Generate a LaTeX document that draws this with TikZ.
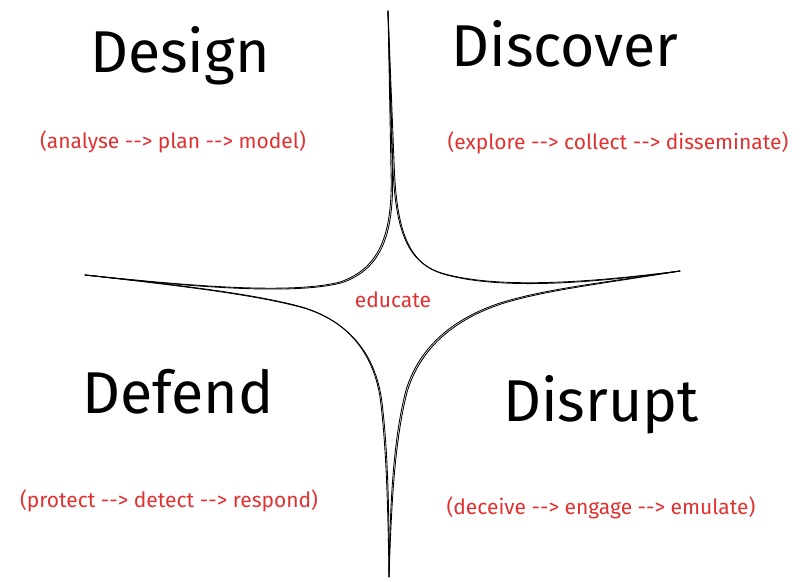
\documentclass[tikz,border=0pt]{standalone}
\usepackage{fontspec}
\setmainfont{Fira Sans}
\definecolor{notered}{HTML}{E03131}
\begin{document}
\begin{tikzpicture}[x=1pt,y=-1pt,
  stroke/.style={line width=0.85pt, black, line cap=round, line join=round},
  title/.style={anchor=base, inner sep=0pt, text=black, font=\fontsize{59}{62}\selectfont},
  note/.style={anchor=center, inner sep=0pt, text=notered, font=\fontsize{21}{24}\selectfont}]
\useasboundingbox (0,0) rectangle (803,581);

% tips of the four-pointed star
\coordinate (tip-n) at (388,11);
\coordinate (tip-w) at (85,275);
\coordinate (tip-e) at (680,271);
\coordinate (tip-s) at (389,577);

% star outline, each arc stroked twice for a hand-drawn look
\foreach \dx/\dy in {0/0, 1.4/0.9} {
  \begin{scope}[shift={(\dx,\dy)}]
    % north-west arc
    \draw[stroke] (tip-n) -- (391,170)
      .. controls (393,232) and (381,268) .. (340,282)
      .. controls (285,296) and (165,283) .. (tip-w);
    % north-east arc
    \draw[stroke] (tip-n) -- (393,170)
      .. controls (396,236) and (410,265) .. (445,274)
      .. controls (505,290) and (600,281) .. (tip-e);
    % south-west arc
    \draw[stroke] (tip-w)
      .. controls (180,285) and (255,294) .. (302,307)
      .. controls (342,319) and (372,347) .. (380,397)
      .. controls (386,442) and (388,505) .. (tip-s);
    % south-east arc
    \draw[stroke] (tip-e)
      .. controls (600,283) and (545,289) .. (500,303)
      .. controls (455,318) and (420,345) .. (406,390)
      .. controls (393,440) and (390,505) .. (tip-s);
  \end{scope}
}

% quadrant titles
\node[title] (design)   at (180,72)  {Design};
\node[title] (discover) at (565,66)  {Discover};
\node[title] (defend)   at (178,413) {Defend};
\node[title] (disrupt)  at (601,421) {Disrupt};

% process notes
\node[note] (design-steps)   at (173,142) {(analyse -{}-> plan -{}-> model)};
\node[note] (discover-steps) at (618,143) {(explore -{}-> collect -{}-> disseminate)};
\node[note] (defend-steps)   at (169,501) {(protect -{}-> detect -{}-> respond)};
\node[note] (disrupt-steps)  at (601,508) {(deceive -{}-> engage -{}-> emulate)};
\node[note] (educate)        at (393,300) {educate};
\end{tikzpicture}
\end{document}
